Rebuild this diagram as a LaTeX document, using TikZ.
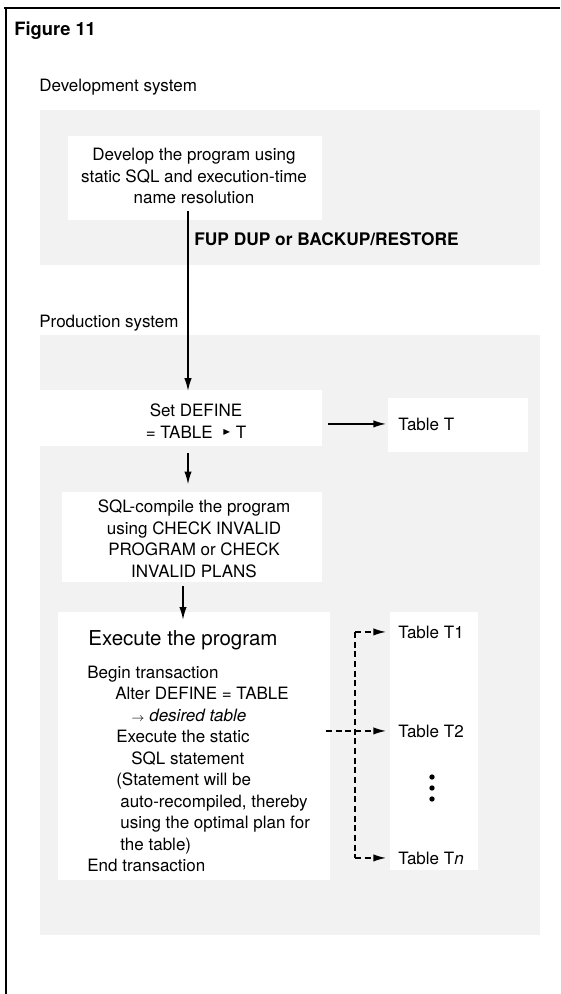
\documentclass[tikz,border=0pt]{standalone}
\usepackage{amssymb}
\usepackage{fontspec}
\setmainfont{TeX Gyre Heros}
\usepackage{tikz}
\usetikzlibrary{arrows.meta}
\definecolor{screen}{gray}{0.95}
\tikzset{
  stage/.style={align=center,inner sep=0pt,font=\fontsize{10.2}{12.9}\selectfont},
  plain/.style={inner sep=0pt,font=\fontsize{10.2}{12.9}\selectfont},
  tablabel/.style={anchor=base west,inner xsep=7.2pt,inner ysep=0pt,
    font=\fontsize{10.2}{12.9}\selectfont},
  arr/.style={-{Latex[length=7.6pt,width=4.4pt]},line width=0.8pt},
  dasharr/.style={arr,dash pattern=on 3.6pt off 2.2pt}
}

\begin{document}
\begin{tikzpicture}[x=0.6pt,y=-0.6pt,
  raster/.style={fill=screen,draw=none},
  clear/.style={fill=white,draw=none}]
\useasboundingbox (0,0) rectangle (560,994);
% background screens
\fill[raster] (40,110) rectangle (540,265);
\fill[clear] (68,136) rectangle (322,220);
\fill[raster] (40,335) rectangle (540,935);
\fill[clear] (40,390) rectangle (322,446);
\fill[clear] (388,398) rectangle (528,452);
\fill[clear] (62,492) rectangle (322,582);
\fill[clear] (58,612) rectangle (330,880);
\fill[clear] (390,612) rectangle (478,870);
\draw[line width=1.2pt] (4,8) -- (560,8);
\draw[line width=0.9pt] (6,8) -- (6,994);

\node[plain,anchor=base west,font=\fontsize{11}{13}\selectfont\bfseries] (fig) at (14,35) {Figure 11};
\node[plain,anchor=base west] (devsys) at (39,91) {Development system};
\node[stage] (dev) at (194,176) {Develop the program using\\static SQL and execution-time\\name resolution};
\node[plain,anchor=base west,font=\fontsize{10.4}{12.9}\selectfont\bfseries] (fup) at (194,245) {FUP DUP or BACKUP/RESTORE};
\node[plain,anchor=base west] (prodsys) at (39,327) {Production system};
\node[stage] (setdef) at (196,421) {Set DEFINE\\= TABLE \ \raisebox{2pt}{\tiny$\blacktriangleright$}\ T};
\node[stage] (sqlc) at (194,539) {SQL-compile the program\\using CHECK INVALID\\PROGRAM or CHECK\\INVALID PLANS};
\node[plain,anchor=base,font=\fontsize{12.3}{14}\selectfont] (exectitle) at (183,645) {Execute the program};
\node[plain,align=left,anchor=west] (execbody) at (87,769) {Begin transaction\\
  \hspace*{16.8pt}Alter DEFINE = TABLE\\
  \hspace*{26.4pt}{\scriptsize$\rightarrow$} \textit{desired table}\\
  \hspace*{17.4pt}Execute the static\\
  \hspace*{26.4pt}SQL statement\\
  \hspace*{17.4pt}(Statement will be\\
  \hspace*{19.8pt}auto-recompiled, thereby\\
  \hspace*{19.8pt}using the optimal plan for\\
  \hspace*{19.8pt}the table)\\
  End transaction};
\node[tablabel] (tabT) at (386,430) {Table T};
\node[tablabel] (tabT1) at (386,638) {Table T1};
\node[tablabel] (tabT2) at (386,737) {Table T2};
\node[tablabel] (tabTn) at (386,864) {Table T\textit{n}};
\foreach \dy in {777,788,799}
  \fill (432,\dy) circle (1.6pt);

\coordinate (spine) at (188,0);
\coordinate (setout) at (328,0);
\coordinate (fork) at (355,0);
\coordinate (t2in) at (326,0);
\draw[arr,shorten <=4.2pt,shorten >=7.6pt] (dev.south -| spine) -- (setdef.north -| spine);
\draw[arr,shorten <=9pt,shorten >=9.4pt] (setdef.south -| spine) -- (sqlc.north -| spine);
\draw[arr,shorten <=4.8pt,shorten >=6pt] (sqlc.south -| exectitle.north) -- (exectitle.north);
\draw[arr] (setout |- tabT.west) -- (tabT.west);
\draw[dasharr,-] (fork |- tabT1.west) -- (fork |- tabTn.west);
\draw[dasharr] (fork |- tabT1.west) -- (tabT1.west);
\draw[dasharr] (t2in |- tabT2.west) -- (tabT2.west);
\draw[dasharr] (fork |- tabTn.west) -- (tabTn.west);
\end{tikzpicture}
\end{document}
